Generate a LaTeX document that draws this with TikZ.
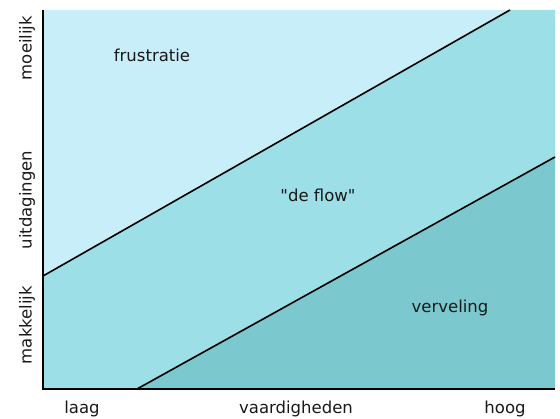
\documentclass[tikz,border=0pt]{standalone}
\usepackage{fontspec}
\setmainfont{DejaVu Sans}[Ligatures=TeXOff]
\definecolor{topc}{HTML}{C8EEF9}
\definecolor{midc}{HTML}{9CDFE6}
\definecolor{botc}{HTML}{7BC8CE}
\begin{document}
\begin{tikzpicture}[x=1pt,y=1pt,
  lbl/.style={font=\fontsize{16.5}{18}\selectfont, text=black!90, inner sep=0pt},
  diag/.style={draw=black, line width=1.6pt},
  axis/.style={draw=black, line width=2.2pt}]
\useasboundingbox (0,0) rectangle (560,419);
% coordinates (y = 419 - pixel row)
\coordinate (TL) at (43,409);
\coordinate (TR) at (555,409);
\coordinate (BL) at (43,30);
\coordinate (BR) at (555,30);
\coordinate (U1) at (43,143);
\coordinate (U2) at (510,409);
\coordinate (L1) at (137,30);
\coordinate (L2) at (555,262);
% regions
\fill[topc] (TL) -- (U2) -- (U1) -- cycle;
\fill[midc] (U1) -- (U2) -- (TR) -- (L2) -- (L1) -- (BL) -- cycle;
\fill[botc] (L1) -- (L2) -- (BR) -- cycle;
% lines
\draw[diag] (U1) -- (U2);
\draw[diag] (L1) -- (L2);
\draw[axis] (TL) -- (BL) -- (BR);
% region labels
\node[lbl] (fr) at (152,364) {frustratie};
\node[lbl] (fl) at (318,224) {"de flow"};
\node[lbl] (vv) at (450,111) {verveling};
% x axis labels
\node[lbl] (laag) at (82,10) {laag};
\node[lbl] (vaard) at (296,10) {vaardigheden};
\node[lbl] (hoog) at (505,10) {hoog};
% y axis labels
\node[lbl, rotate=90] (moei) at (27,371) {moeilijk};
\node[lbl, rotate=90] (uitd) at (27,219) {uitdagingen};
\node[lbl, rotate=90] (makk) at (27,94) {makkelijk};
\end{tikzpicture}
\end{document}
